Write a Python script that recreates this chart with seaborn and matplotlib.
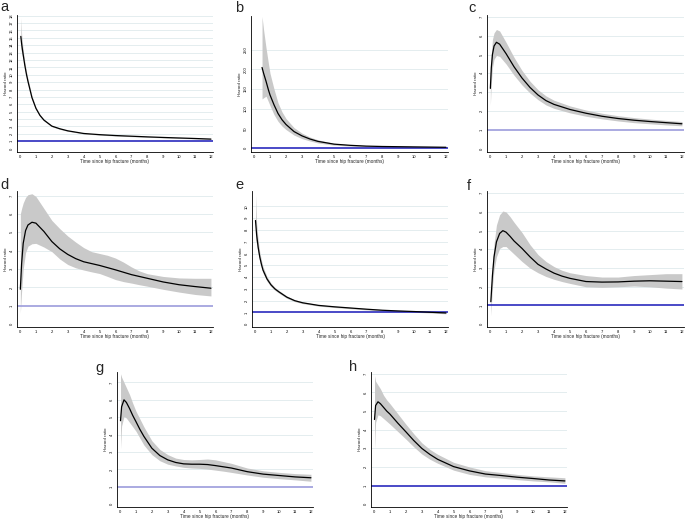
import matplotlib
matplotlib.use("Agg")
import matplotlib.pyplot as plt
import seaborn as sns

# panel a
a_x = [0.05, 0.1, 0.2, 0.3, 0.4, 0.5, 0.75, 1, 1.25, 1.5, 2, 2.5, 3, 4, 5, 6, 7, 8, 9, 10, 11, 12]
a_hr = [15.2, 14.2, 12.7, 11.3, 10.1, 9.1, 6.9, 5.45, 4.5, 3.86, 3.04, 2.68, 2.4, 2.04, 1.88, 1.76, 1.67, 1.58, 1.5, 1.43, 1.36, 1.28]
a_hi = [17.7, 15.5, 13.3, 11.8, 10.5, 9.45, 7.15, 5.63, 4.64, 3.98, 3.13, 2.76, 2.47, 2.1, 1.94, 1.82, 1.73, 1.63, 1.55, 1.48, 1.41, 1.33]
a_lo = [13.5, 13.0, 12.1, 10.8, 9.7, 8.75, 6.65, 5.27, 4.36, 3.74, 2.95, 2.6, 2.33, 1.98, 1.82, 1.7, 1.61, 1.53, 1.45, 1.38, 1.31, 1.23]

# panel b
b_x = [0.5, 0.6, 0.75, 0.9, 1, 1.25, 1.5, 1.75, 2, 2.5, 3, 3.5, 4, 5, 6, 7, 8, 9, 10, 11, 12]
b_hr = [205, 190, 170, 148, 135, 110, 88, 72, 60, 42, 31, 23, 17, 10, 7, 5, 4, 3.5, 3, 2.5, 2]
b_hi = [335, 300, 255, 215, 190, 150, 115, 92, 75, 52, 38, 28, 21, 12, 8.5, 6.5, 5, 4.5, 4, 3.5, 3]
b_lo = [125, 128, 132, 118, 108, 85, 68, 56, 47, 33, 24, 18, 13, 7.5, 5, 3.5, 2.8, 2.3, 2, 1.6, 1.2]

# panel c
c_x = [0.02, 0.08, 0.15, 0.25, 0.4, 0.6, 0.8, 1, 1.25, 1.5, 2, 2.5, 3, 3.5, 4, 5, 6, 7, 8, 9, 10, 11, 12]
c_hr = [3.2, 4.3, 5.0, 5.45, 5.65, 5.55, 5.3, 5.05, 4.7, 4.35, 3.75, 3.25, 2.85, 2.55, 2.35, 2.08, 1.88, 1.72, 1.6, 1.51, 1.44, 1.38, 1.32]
c_hi = [4.0, 5.0, 5.8, 6.15, 6.33, 6.25, 5.95, 5.65, 5.25, 4.85, 4.15, 3.58, 3.13, 2.8, 2.57, 2.27, 2.05, 1.88, 1.75, 1.65, 1.57, 1.5, 1.44]
c_lo = [2.3, 3.5, 4.3, 4.75, 4.95, 4.9, 4.7, 4.5, 4.2, 3.9, 3.38, 2.95, 2.6, 2.32, 2.14, 1.9, 1.72, 1.58, 1.47, 1.38, 1.32, 1.26, 1.21]

# panel d
d_x = [0.02, 0.1, 0.2, 0.35, 0.5, 0.75, 1, 1.5, 2, 2.5, 3, 3.5, 4, 4.5, 5, 5.5, 6, 6.5, 7, 7.5, 8, 9, 10, 11, 12]
d_hr = [1.9, 3.3, 4.4, 5.1, 5.4, 5.55, 5.5, 5.05, 4.5, 4.1, 3.8, 3.57, 3.4, 3.3, 3.2, 3.08, 2.96, 2.83, 2.7, 2.6, 2.5, 2.3, 2.15, 2.05, 1.96]
d_hi = [6.0, 6.3, 6.6, 6.9, 7.05, 7.1, 6.95, 6.3, 5.65, 5.2, 4.8, 4.47, 4.17, 3.95, 3.85, 3.75, 3.6, 3.38, 3.12, 2.9, 2.75, 2.6, 2.52, 2.5, 2.5]
d_lo = [0.6, 1.8, 3.0, 3.9, 4.25, 4.38, 4.4, 4.2, 3.95, 3.55, 3.25, 3.07, 2.95, 2.85, 2.76, 2.6, 2.43, 2.32, 2.24, 2.15, 2.07, 1.9, 1.75, 1.62, 1.54]

# panel e
e_x = [0.03, 0.1, 0.2, 0.3, 0.4, 0.5, 0.75, 1, 1.25, 1.5, 2, 2.5, 3, 4, 5, 6, 7, 8, 9, 10, 11, 12]
e_hr = [8.8, 7.6, 6.5, 5.7, 5.1, 4.6, 3.85, 3.35, 3.0, 2.75, 2.3, 2.0, 1.82, 1.6, 1.48, 1.38, 1.28, 1.19, 1.13, 1.08, 1.02, 0.96]
e_hi = [11.0, 8.6, 7.1, 6.1, 5.45, 4.9, 4.05, 3.5, 3.13, 2.87, 2.4, 2.08, 1.89, 1.66, 1.54, 1.44, 1.34, 1.25, 1.19, 1.14, 1.09, 1.04]
e_lo = [7.2, 6.8, 6.0, 5.3, 4.8, 4.35, 3.65, 3.2, 2.88, 2.64, 2.2, 1.92, 1.75, 1.54, 1.42, 1.32, 1.22, 1.13, 1.07, 1.02, 0.96, 0.89]

# panel f
f_x = [0.05, 0.15, 0.25, 0.4, 0.6, 0.8, 1, 1.25, 1.5, 2, 2.5, 3, 3.5, 4, 4.5, 5, 6, 7, 8, 9, 10, 11, 12]
f_hr = [1.2, 2.6, 3.6, 4.4, 4.85, 5.0, 4.92, 4.7, 4.45, 4.05, 3.6, 3.2, 2.95, 2.73, 2.57, 2.45, 2.28, 2.25, 2.26, 2.3, 2.32, 2.3, 2.28]
f_hi = [1.6, 3.2, 4.3, 5.3, 5.85, 6.05, 6.0, 5.75, 5.45, 4.9, 4.25, 3.72, 3.35, 3.08, 2.88, 2.75, 2.6, 2.52, 2.52, 2.6, 2.65, 2.7, 2.7]
f_lo = [0.45, 2.0, 2.9, 3.6, 4.05, 4.15, 4.15, 3.95, 3.75, 3.35, 3.0, 2.75, 2.55, 2.4, 2.28, 2.18, 2.0, 1.97, 2.0, 2.04, 2.0, 1.93, 1.88]

# panel g
g_x = [0.03, 0.1, 0.25, 0.4, 0.6, 0.8, 1, 1.25, 1.5, 2, 2.5, 3, 3.5, 4, 4.5, 5, 5.5, 6, 6.5, 7, 8, 9, 10, 11, 12]
g_hr = [4.8, 5.6, 6.0, 5.85, 5.5, 5.1, 4.75, 4.3, 3.9, 3.22, 2.8, 2.55, 2.4, 2.32, 2.3, 2.3, 2.28, 2.22, 2.15, 2.08, 1.87, 1.73, 1.65, 1.57, 1.52]
g_hi = [7.5, 7.3, 7.0, 6.7, 6.3, 5.8, 5.35, 4.9, 4.45, 3.65, 3.15, 2.85, 2.65, 2.57, 2.55, 2.57, 2.6, 2.55, 2.45, 2.35, 2.08, 1.92, 1.83, 1.76, 1.72]
g_lo = [3.2, 4.5, 5.05, 4.95, 4.7, 4.45, 4.2, 3.8, 3.4, 2.85, 2.5, 2.3, 2.2, 2.12, 2.08, 2.06, 2.02, 1.96, 1.9, 1.83, 1.68, 1.55, 1.47, 1.4, 1.32]

# panel h
h_x = [0.03, 0.1, 0.25, 0.4, 0.6, 0.8, 1, 1.5, 2, 2.5, 3, 3.5, 4, 5, 6, 7, 8, 9, 10, 11, 12]
h_hr = [4.55, 5.3, 5.5, 5.4, 5.2, 5.0, 4.84, 4.35, 3.89, 3.42, 3.0, 2.68, 2.41, 2.02, 1.79, 1.62, 1.54, 1.45, 1.38, 1.3, 1.25]
h_hi = [6.9, 6.6, 6.4, 6.2, 5.85, 5.6, 5.4, 4.85, 4.3, 3.78, 3.3, 2.95, 2.68, 2.25, 2.0, 1.8, 1.7, 1.6, 1.52, 1.47, 1.42]
h_lo = [3.0, 4.4, 4.8, 4.75, 4.6, 4.45, 4.3, 3.9, 3.5, 3.08, 2.7, 2.42, 2.2, 1.83, 1.6, 1.47, 1.4, 1.32, 1.25, 1.2, 1.12]

month_ticks = list(range(13))
ticks_18 = list(range(19))
ticks_250 = [0, 50, 100, 150, 200, 250]
ticks_7 = list(range(8))
ticks_10 = list(range(11))

sns.set_style("white")
plt.rcParams['font.family'] = ['Liberation Sans', 'DejaVu Sans']

BLUE = "#2b2bbd"
LAVENDER = "#9c9cdc"
GRID = "#e4edef"
BAND = "#c9c9c9"

W, H = 685, 519
fig = plt.figure(figsize=(W / 100, H / 100), dpi=100)


def rect(l, t, r, b):
    return [l / W, 1 - b / H, (r - l) / W, (b - t) / H]


# letter, axes box (px), letter pos (px), data, yticks, ylim, reference line colour
panels = [
    ("a", (17, 15, 213, 152), (0, 7), (a_x, a_hr, a_lo, a_hi), ticks_18, (-0.47, 18.1), BLUE),
    ("b", (251, 16, 448, 152), (235, 8), (b_x, b_hr, b_lo, b_hi), ticks_250, (-10, 336), BLUE),
    ("c", (487, 15, 684, 152), (468, 8), (c_x, c_hr, c_lo, c_hi), ticks_7, (-0.18, 7.1), LAVENDER),
    ("d", (17, 191, 213, 327), (0, 185), (d_x, d_hr, d_lo, d_hi), ticks_7, (-0.15, 7.25), LAVENDER),
    ("e", (252, 191, 448, 327), (235, 185), (e_x, e_hr, e_lo, e_hi), ticks_10, (-0.23, 11.3), BLUE),
    ("f", (487, 191, 684, 327), (467, 186), (f_x, f_hr, f_lo, f_hi), ticks_7, (-0.15, 7.12), BLUE),
    ("g", (117, 372, 313, 507), (95, 368), (g_x, g_hr, g_lo, g_hi), ticks_7, (-0.16, 7.6), LAVENDER),
    ("h", (371, 372, 567, 507), (349, 367), (h_x, h_hr, h_lo, h_hi), ticks_7, (-0.15, 7.1), BLUE),
]

for letter, box, lab, (x, hr, lo, hi), yticks, ylim, refc in panels:
    ax = fig.add_axes(rect(*box))
    for t in yticks[2:]:
        ax.axhline(t, color=GRID, lw=0.7, zorder=0)
    ax.fill_between(x, lo, hi, color=BAND, lw=0, zorder=1)
    ax.axhline(1, color=refc, lw=1.2, zorder=2)
    sns.lineplot(x=x, y=hr, ax=ax, color="black", lw=0.9, zorder=3)

    ax.set_xlim(-0.19, 12.13)
    ax.set_ylim(*ylim)
    ax.set_xticks(month_ticks)
    ax.set_yticks(yticks)
    ax.tick_params(labelsize=3, length=1.6, width=0.5, pad=0.6, colors="black")
    ax.tick_params(axis="y", labelrotation=90)
    for lbl in ax.get_yticklabels():
        lbl.set_va("center")
    for s in ["top", "right"]:
        ax.spines[s].set_visible(False)
    for s in ["left", "bottom"]:
        ax.spines[s].set_color("black")
        ax.spines[s].set_linewidth(0.6)
    ax.set_xlabel("Time since hip fracture (months)", fontsize=3.4, labelpad=0.3)
    ax.set_ylabel("Hazard ratio", fontsize=3.2, labelpad=1.2)

    fig.text(lab[0] / W, 1 - lab[1] / H, letter, fontsize=10.5, ha="left", va="center")

fig.savefig("out.png", dpi=100)
